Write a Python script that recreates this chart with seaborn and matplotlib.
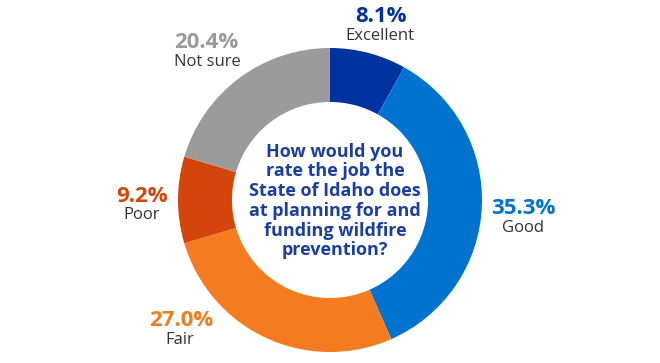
import matplotlib
matplotlib.use("Agg")
import matplotlib.pyplot as plt
import seaborn as sns

categories = ["Excellent", "Good", "Fair", "Poor", "Not sure"]
values = [8.1, 35.3, 27.0, 9.2, 20.4]
pct_labels = ["8.1%", "35.3%", "27.0%", "9.2%", "20.4%"]
colors = ["#0033A0", "#0073CF", "#F47B20", "#D4450C", "#9B9B9B"]
question = "How would you\nrate the job the\nState of Idaho does\nat planning for and\nfunding wildfire\nprevention?"

sns.set_theme(style="white")
plt.rcParams["font.family"] = ["Open Sans", "DejaVu Sans"]

W, H = 660, 363
fig = plt.figure(figsize=(W / 100, H / 100), dpi=100)
ax = fig.add_axes([0, 0, 1, 1])

cx, cy, R = 330, H - 200, 152
ax.pie(values, colors=colors, startangle=90, counterclock=False,
       radius=R, center=(cx, cy), frame=True,
       wedgeprops=dict(width=R * 0.355, edgecolor="none", linewidth=0))
ax.set_xlim(0, W)
ax.set_ylim(0, H)
ax.set_aspect("equal")
ax.axis("off")

# label positions (pixel coords from top)
pos = {
    "Excellent": ((381, 17), (380, 36)),
    "Good": ((523, 208), (523, 228)),
    "Fair": ((181, 320), (180, 340)),
    "Poor": ((142, 197), (142, 215)),
    "Not sure": ((206, 43), (207, 62)),
}
for cat, p, c in zip(categories, pct_labels, colors):
    (px, py), (lx, ly) = pos[cat]
    ax.text(px, H - py, p, color=c, fontsize=16, fontweight="bold",
            ha="center", va="center")
    ax.text(lx, H - ly, cat, color="#333333", fontsize=12,
            ha="center", va="center")

ax.text(335, H - 201, question, color="#1B3FA0", fontsize=13,
        fontweight="bold", ha="center", va="center", linespacing=1.12,
        multialignment="center")

fig.savefig("out.png", dpi=100)
